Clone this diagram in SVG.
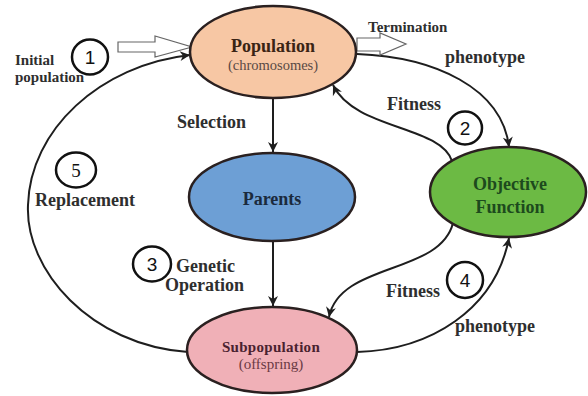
<svg xmlns="http://www.w3.org/2000/svg" width="588" height="396" viewBox="0 0 588 396">
<style>
.lbl{font-family:"Liberation Serif","Times New Roman",serif;font-weight:bold;font-size:18px;fill:#2e2e2e}
.small{font-size:15px}
.node{stroke:#2a2020;stroke-width:2.5}
.conn{fill:none;stroke:#1e1e1e;stroke-width:2}
.num{fill:none;stroke:#111;stroke-width:2.5}
.numt{font-family:"Liberation Sans",Arial,sans-serif;font-size:19px;fill:#111;text-anchor:middle}
.block{fill:#fff;stroke:#666;stroke-width:1.2}
.nt{font-family:"Liberation Serif","Times New Roman",serif;text-anchor:middle}
</style>
<defs>
<marker id="ah" markerUnits="userSpaceOnUse" markerWidth="12" markerHeight="12" refX="11" refY="6" orient="auto">
<path d="M1,1 L11,6 L1,11 L4,6 z" fill="#1e1e1e"/>
</marker>
</defs>
<rect width="588" height="396" fill="#fff"/>

<g id="connectors">
<path class="conn" d="M273,98 L273,152" marker-end="url(#ah)"/>
<path class="conn" d="M273,241 L273,306" marker-end="url(#ah)"/>
<path class="conn" d="M357,54 C435,57 502,88 509,147" marker-end="url(#ah)"/>
<path class="conn" d="M452,161 C440,125 355,130 333,85" marker-end="url(#ah)"/>
<path class="conn" d="M453,223 C440,275 340,262 329,317" marker-end="url(#ah)"/>
<path class="conn" d="M357,352 C430,350 495,310 509,238" marker-end="url(#ah)"/>
<path class="conn" d="M188,352 C90,345 25,270 28,205 C30,130 100,65 190,55" marker-end="url(#ah)"/>
<polygon class="block" points="118,42 155,42 155,36 192,47 155,57 155,52 118,52"/>
<polygon class="block" points="357,38 380,38 380,33 406,44 380,55 380,51 357,51"/>
</g>

<g id="population">
<ellipse class="node" cx="273" cy="52" rx="83" ry="46" fill="#f7c7a4"/>
<text class="nt" x="273" y="52" font-size="18" font-weight="bold" fill="#3a2414">Population</text>
<text class="nt" x="273" y="70" font-size="14.5" fill="#5a4a44">(chromosomes)</text>
</g>

<g id="parents">
<ellipse class="node" cx="272" cy="197" rx="83" ry="44" fill="#6d9fd5" stroke="#1c2a3c"/>
<text class="nt" x="272" y="205" font-size="18" font-weight="bold" fill="#1b2a3d">Parents</text>
</g>

<g id="objective">
<ellipse class="node" cx="508" cy="192" rx="78" ry="45" fill="#6cba44" stroke="#1c301c"/>
<text class="nt" x="510" y="190" font-size="18" font-weight="bold" fill="#1d4a1d">Objective</text>
<text class="nt" x="510" y="213" font-size="18" font-weight="bold" fill="#1d4a1d">Function</text>
</g>

<g id="subpopulation">
<ellipse class="node" cx="272" cy="350" rx="85" ry="43" fill="#f0b0b7" stroke="#2a1a1e"/>
<text class="nt" x="271" y="352" font-size="15" font-weight="bold" fill="#4a2230" letter-spacing="0.3">Subpopulation</text>
<text class="nt" x="271" y="369" font-size="15" fill="#6a3a44">(offspring)</text>
</g>

<g id="steps">
<ellipse class="num" cx="90" cy="57" rx="18" ry="17.5"/>
<text class="numt" x="90" y="64">1</text>
<ellipse class="num" cx="465" cy="128" rx="17" ry="16.5"/>
<text class="numt" x="465" y="135">2</text>
<ellipse class="num" cx="152" cy="264" rx="19" ry="17.5"/>
<text class="numt" x="152" y="271">3</text>
<ellipse class="num" cx="465" cy="280" rx="18" ry="18"/>
<text class="numt" x="465" y="287">4</text>
<ellipse class="num" cx="76" cy="170" rx="20" ry="17.5"/>
<text class="numt" x="76" y="177" style="font-family:'Liberation Serif','Times New Roman',serif">5</text>
</g>

<g id="labels">
<text class="lbl small" x="15" y="65">Initial</text>
<text class="lbl small" x="15" y="82">population</text>
<text class="lbl small" x="368" y="32">Termination</text>
<text class="lbl" x="445" y="63">phenotype</text>
<text class="lbl" x="177" y="128">Selection</text>
<text class="lbl" x="387" y="110">Fitness</text>
<text class="lbl" x="35" y="206">Replacement</text>
<text class="lbl" x="176" y="272">Genetic</text>
<text class="lbl" x="165" y="291">Operation</text>
<text class="lbl" x="386" y="297">Fitness</text>
<text class="lbl" x="455" y="332">phenotype</text>
</g>
</svg>
